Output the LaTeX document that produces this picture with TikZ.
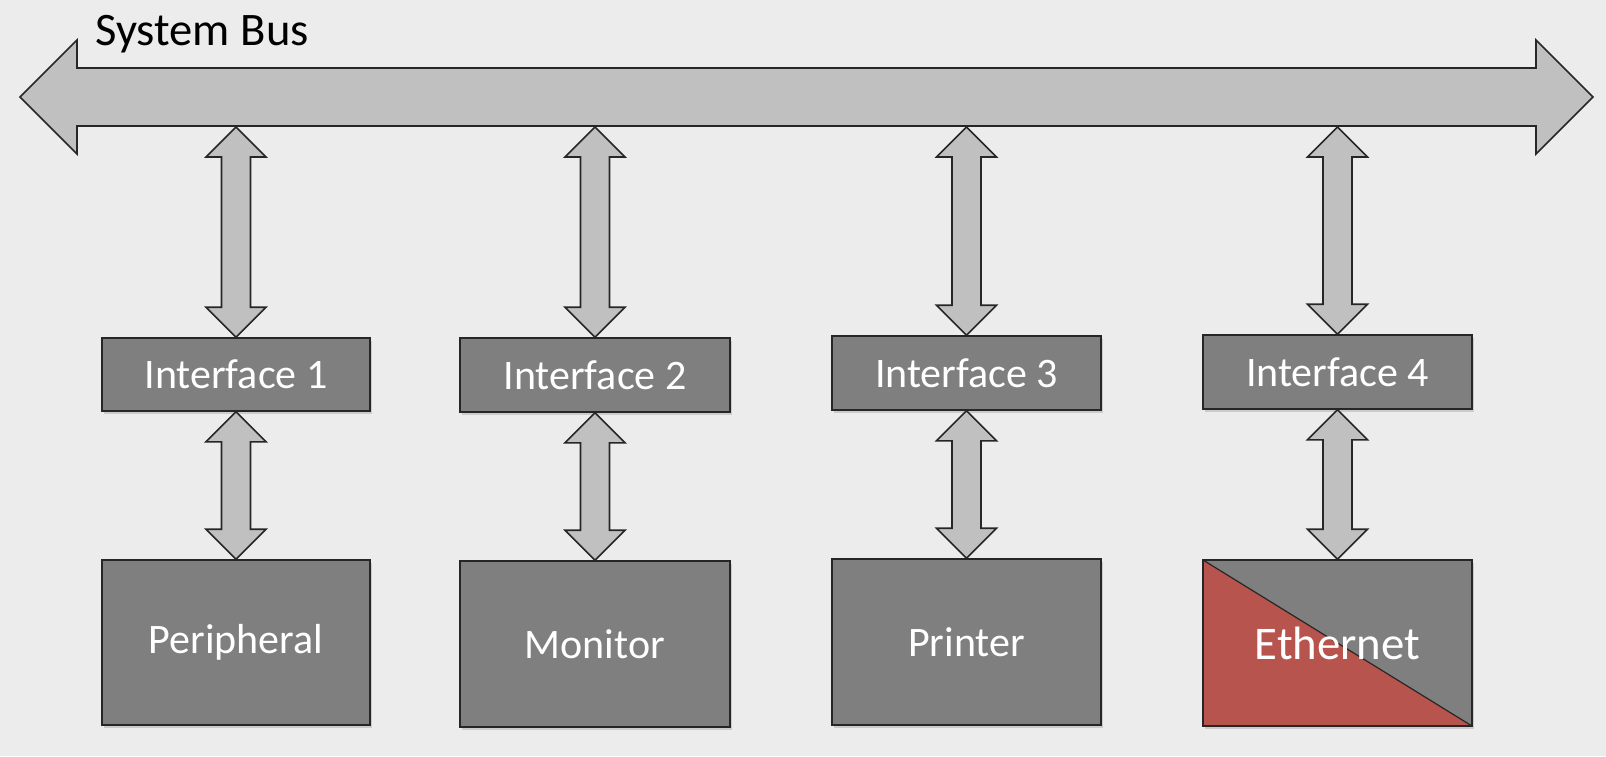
\documentclass[tikz,border=0pt]{standalone}
\usepackage{fontspec}
\setmainfont{Carlito}
\usetikzlibrary{calc,shadows}
\definecolor{bggray}{RGB}{236,236,236}
\definecolor{busgray}{RGB}{192,192,192}
\definecolor{boxgray}{RGB}{127,127,127}
\definecolor{ethred}{RGB}{184,84,78}
\tikzset{
  busarrow/.style={fill=busgray,draw=black!85,line width=0.8pt,line join=miter},
  ifbox/.style={rectangle,fill=boxgray,draw=black!85,line width=0.8pt,text=white,
    inner sep=0pt,font=\fontsize{21}{25}\selectfont,
    drop shadow={opacity=0.3,shadow xshift=1.2pt,shadow yshift=-1.5pt}},
}
\newcommand\vdarrow[2]{%
  \path[busarrow] let \p1=(#1), \p2=(#2) in
    (\x1,\y1) -- (\x1+15pt,\y1-15pt) -- (\x1+7.25pt,\y1-15pt) --
    (\x1+7.25pt,\y2+15pt) -- (\x1+15pt,\y2+15pt) -- (\x1,\y2) --
    (\x1-15pt,\y2+15pt) -- (\x1-7.25pt,\y2+15pt) -- (\x1-7.25pt,\y1-15pt) --
    (\x1-15pt,\y1-15pt) -- cycle;}
\begin{document}
\begin{tikzpicture}[x=0.5pt,y=-0.5pt]
\fill[bggray] (0,0) rectangle (1606,756);
\useasboundingbox (0,0) rectangle (1606,756);
% system bus
\path[busarrow] (20,97) -- (77,40) -- (77,68) -- (1536,68) -- (1536,40) --
  (1593,97) -- (1536,154) -- (1536,126) -- (77,126) -- (77,154) -- cycle;
\coordinate (busbottom) at (800,127);
\node[anchor=base west,inner sep=0pt,font=\fontsize{23.3}{27}\selectfont] (title) at (95,45) {System Bus};
% interfaces
\node[ifbox,minimum width=134pt,minimum height=36.5pt] (I1) at (236,374.5) {Interface 1};
\node[ifbox,minimum width=135pt,minimum height=37pt] (I2) at (595,375) {Interface 2};
\node[ifbox,minimum width=134.5pt,minimum height=37pt] (I3) at (966.5,373) {Interface 3};
\node[ifbox,minimum width=134.5pt,minimum height=37pt] (I4) at (1337.5,372) {Interface 4};
% devices
\node[ifbox,minimum width=134pt,minimum height=82.5pt] (P1) at (236,642.5) {Peripheral};
\node[ifbox,minimum width=135pt,minimum height=83pt] (P2) at (595,644) {Monitor};
\node[ifbox,minimum width=134.5pt,minimum height=83pt] (P3) at (966.5,642) {Printer};
\node[ifbox,minimum width=134.5pt,minimum height=83pt,font=\fontsize{23.4}{27}\selectfont,
  path picture={
    \fill[ethred] (path picture bounding box.north west) -- (path picture bounding box.south east)
      -- (path picture bounding box.south west) -- cycle;
    \draw[black!85,line width=0.6pt] (path picture bounding box.north west) -- (path picture bounding box.south east);
  }] (P4) at (1337.5,643) {Ethernet};
% bus attach points
\coordinate (b1) at (I1 |- busbottom);
\coordinate (b2) at (I2 |- busbottom);
\coordinate (b3) at (I3 |- busbottom);
\coordinate (b4) at (I4 |- busbottom);
% connectors
\vdarrow{b1}{I1.north}
\vdarrow{b2}{I2.north}
\vdarrow{b3}{I3.north}
\vdarrow{b4}{I4.north}
\vdarrow{I1.south}{P1.north}
\vdarrow{I2.south}{P2.north}
\vdarrow{I3.south}{P3.north}
\vdarrow{I4.south}{P4.north}
\end{tikzpicture}
\end{document}
